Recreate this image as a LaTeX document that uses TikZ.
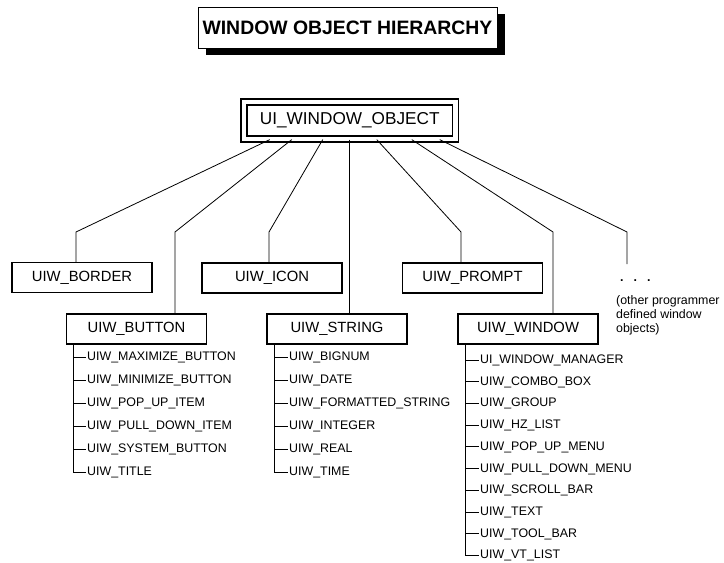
\documentclass[tikz,border=0pt]{standalone}
\usepackage{fontspec}
\setmainfont{Liberation Sans}
\usetikzlibrary{positioning,shadows}

\begin{document}
\begin{tikzpicture}[x=1pt, y=-1pt,
        classbox/.style={draw, line width=1.1pt, minimum width=140pt, minimum height=30pt, inner sep=0pt, font=\fontsize{14.8}{16}\selectfont},
        leaf/.style={font=\fontsize{12.4}{14}\selectfont, inner xsep=1pt, inner ysep=0pt, text height=9pt, text depth=2pt},
        link/.style={line width=0.8pt}]
        \useasboundingbox (0,0) rectangle (724,563);

        \node[draw, line width=1pt, fill=white, minimum width=299pt, minimum height=41pt, inner sep=0pt,
              font=\fontsize{19.4}{22}\selectfont\bfseries,
              drop shadow={shadow xshift=8pt, shadow yshift=-7pt, fill=black, opacity=1}] (title) at (347.5,27.5) {WINDOW OBJECT HIERARCHY};

        \node[draw, double, double distance=4.8pt, line width=1.2pt, minimum width=211.5pt, minimum height=37pt, inner sep=0pt,
              font=\fontsize{17.2}{20}\selectfont] (root) at (349.75,120.5) {UI\_WINDOW\_OBJECT};

        \node[classbox] (border) at (82,277.5) {UIW\_BORDER};
        \node[classbox] (icon) at (272,278) {UIW\_ICON};
        \node[classbox] (prompt) at (472.5,278) {UIW\_PROMPT};
        \node[classbox] (button) at (136.5,329) {UIW\_BUTTON};
        \node[classbox] (string) at (337,329) {UIW\_STRING};
        \node[classbox] (window) at (528,329) {UIW\_WINDOW};

        \node[font=\bfseries\fontsize{12.4}{14}\selectfont, anchor=north west, inner sep=0pt, text height=17pt] (dots) at (620,264) {.\hspace{10pt}.\hspace{10pt}.};
        \node[font=\fontsize{12.4}{14}\selectfont, anchor=north west, inner sep=0pt, align=left] (other) at (616,295) {(other programmer\\defined window\\objects)};

        % bends of the fan
        \coordinate (b1) at (76,232);
        \coordinate (b2) at (175,232);
        \coordinate (b3) at (269,232);
        \coordinate (b5) at (461,232);
        \coordinate (b6) at (553,232);
        \coordinate (b7) at (627,232);

        \draw[link] ([xshift=-80pt]root.south) -- (b1) -- (b1 |- border.north);
        \draw[link] ([xshift=-58pt]root.south) -- (b2) -- (b2 |- button.north);
        \draw[link] ([xshift=-27pt]root.south) -- (b3) -- (b3 |- icon.north);
        \draw[link] (root.south) -- (root.south |- string.north);
        \draw[link] ([xshift=27pt]root.south) -- (b5) -- (b5 |- prompt.north);
        \draw[link] ([xshift=62pt]root.south) -- (b6) -- (b6 |- window.north);
        \draw[link] ([xshift=90pt]root.south) -- (b7) -- (b7 |- dots.north);

        % button list
        \node[leaf, anchor=west] (bt1) at (86,357) {UIW\_MAXIMIZE\_BUTTON};
        \node[leaf] (bt2) [below=23pt of bt1.west, anchor=west] {UIW\_MINIMIZE\_BUTTON};
        \node[leaf] (bt3) [below=23pt of bt2.west, anchor=west] {UIW\_POP\_UP\_ITEM};
        \node[leaf] (bt4) [below=23pt of bt3.west, anchor=west] {UIW\_PULL\_DOWN\_ITEM};
        \node[leaf] (bt5) [below=23pt of bt4.west, anchor=west] {UIW\_SYSTEM\_BUTTON};
        \node[leaf] (bt6) [below=23pt of bt5.west, anchor=west] {UIW\_TITLE};

        \coordinate (btrunk) at ([xshift=-63.5pt]button.south);
        \draw[link] (btrunk) |- (bt6.west);
        \draw[link] (btrunk |- bt1.west) -- (bt1.west);
        \draw[link] (btrunk |- bt2.west) -- (bt2.west);
        \draw[link] (btrunk |- bt3.west) -- (bt3.west);
        \draw[link] (btrunk |- bt4.west) -- (bt4.west);
        \draw[link] (btrunk |- bt5.west) -- (bt5.west);

        % string list
        \node[leaf, anchor=west] (st1) at (288,357) {UIW\_BIGNUM};
        \node[leaf] (st2) [below=23pt of st1.west, anchor=west] {UIW\_DATE};
        \node[leaf] (st3) [below=23pt of st2.west, anchor=west] {UIW\_FORMATTED\_STRING};
        \node[leaf] (st4) [below=23pt of st3.west, anchor=west] {UIW\_INTEGER};
        \node[leaf] (st5) [below=23pt of st4.west, anchor=west] {UIW\_REAL};
        \node[leaf] (st6) [below=23pt of st5.west, anchor=west] {UIW\_TIME};

        \coordinate (strunk) at ([xshift=-63pt]string.south);
        \draw[link] (strunk) |- (st6.west);
        \draw[link] (strunk |- st1.west) -- (st1.west);
        \draw[link] (strunk |- st2.west) -- (st2.west);
        \draw[link] (strunk |- st3.west) -- (st3.west);
        \draw[link] (strunk |- st4.west) -- (st4.west);
        \draw[link] (strunk |- st5.west) -- (st5.west);

        % window list
        \node[leaf, anchor=west] (wn1) at (479,360) {UI\_WINDOW\_MANAGER};
        \node[leaf] (wn2) [below=21.7pt of wn1.west, anchor=west] {UIW\_COMBO\_BOX};
        \node[leaf] (wn3) [below=21.7pt of wn2.west, anchor=west] {UIW\_GROUP};
        \node[leaf] (wn4) [below=21.7pt of wn3.west, anchor=west] {UIW\_HZ\_LIST};
        \node[leaf] (wn5) [below=21.7pt of wn4.west, anchor=west] {UIW\_POP\_UP\_MENU};
        \node[leaf] (wn6) [below=21.7pt of wn5.west, anchor=west] {UIW\_PULL\_DOWN\_MENU};
        \node[leaf] (wn7) [below=21.7pt of wn6.west, anchor=west] {UIW\_SCROLL\_BAR};
        \node[leaf] (wn8) [below=21.7pt of wn7.west, anchor=west] {UIW\_TEXT};
        \node[leaf] (wn9) [below=21.7pt of wn8.west, anchor=west] {UIW\_TOOL\_BAR};
        \node[leaf] (wn10) [below=21.7pt of wn9.west, anchor=west] {UIW\_VT\_LIST};

        \coordinate (wtrunk) at ([xshift=-63pt]window.south);
        \draw[link] (wtrunk) |- (wn10.west);
        \draw[link] (wtrunk |- wn1.west) -- (wn1.west);
        \draw[link] (wtrunk |- wn2.west) -- (wn2.west);
        \draw[link] (wtrunk |- wn3.west) -- (wn3.west);
        \draw[link] (wtrunk |- wn4.west) -- (wn4.west);
        \draw[link] (wtrunk |- wn5.west) -- (wn5.west);
        \draw[link] (wtrunk |- wn6.west) -- (wn6.west);
        \draw[link] (wtrunk |- wn7.west) -- (wn7.west);
        \draw[link] (wtrunk |- wn8.west) -- (wn8.west);
        \draw[link] (wtrunk |- wn9.west) -- (wn9.west);
    \end{tikzpicture}
\end{document}
